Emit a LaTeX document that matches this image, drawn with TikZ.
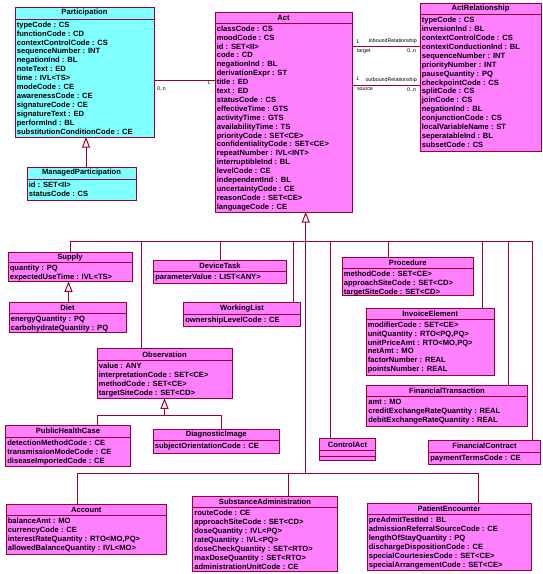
\documentclass[tikz,border=0pt]{standalone}
\usepackage{fontspec}
\setmainfont{Liberation Sans}
\usepackage{tikz}
\usetikzlibrary{arrows.meta}
\definecolor{rimred}{RGB}{153,0,51}
\definecolor{actpink}{RGB}{255,128,255}
\definecolor{partcyan}{RGB}{128,255,255}
% one class box: name, fill, top left, width, height, header height, title, attributes
\newcommand{\umlclass}[8]{%
  \node[classbox,fill=#2,minimum width=#4pt,minimum height=#5pt,anchor=north west] (#1) at (#3) {};
  \draw[umlline] ([yshift=-#6pt]#1.north west) -- ([yshift=-#6pt]#1.north east);
  \node[classtext] (#1-t) at ([yshift=-#6pt/2]#1.north) {#7};
  \foreach \attr [count=\k] in {#8}
    \node[classtext,anchor=base west] (#1-a\k) at ([xshift=1.6pt,yshift=-#6pt-8.2pt-(\k-1)*8.9pt]#1.north west) {\attr};
}

\begin{document}
\begin{tikzpicture}[x=1pt,y=-1pt,
  classbox/.style={draw=rimred,line width=1pt,inner sep=0pt,outer sep=0pt},
  umlline/.style={draw=rimred,line width=1pt},
  classtext/.style={font=\fontsize{7.6}{8.9}\selectfont\bfseries,inner sep=0pt},
  role/.style={font=\fontsize{5.3}{6}\selectfont,inner sep=0pt},
  gen/.style={umlline},
  inherit/.style={umlline,-{Triangle[open,length=10.5pt,width=8pt]}}]
\useasboundingbox (0,0) rectangle (543,574);
% participation side
\umlclass{participation}{partcyan}{15,7}{139}{130}{12}{Participation}{typeCode : CS, functionCode : CD, contextControlCode : CS, sequenceNumber : INT, negationInd : BL, noteText : ED, time : IVL<TS>, modeCode : CE, awarenessCode : CE, signatureCode : CE, signatureText : ED, performInd : BL, substitutionConditionCode : CE}
\umlclass{managed}{partcyan}{27,167}{109}{33}{12}{ManagedParticipation}{id : SET<II>, statusCode : CS}
% act and its relationships
\umlclass{act}{actpink}{215,12}{137}{200}{11}{Act}{classCode : CS, moodCode : CS, id : SET<II>, code : CD, negationInd : BL, derivationExpr : ST, title : ED, text : ED, statusCode : CS, effectiveTime : GTS, activityTime : GTS, availabilityTime : TS, priorityCode : SET<CE>, confidentialityCode : SET<CE>, repeatNumber : IVL<INT>, interruptibleInd : BL, levelCode : CE, independentInd : BL, uncertaintyCode : CE, reasonCode : SET<CE>, languageCode : CE}
\umlclass{actrel}{actpink}{420,3}{121}{148}{11.5}{ActRelationship}{typeCode : CS, inversionInd : BL, contextControlCode : CS, contextConductionInd : BL, sequenceNumber : INT, priorityNumber : INT, pauseQuantity : PQ, checkpointCode : CS, splitCode : CS, joinCode : CS, negationInd : BL, conjunctionCode : CS, localVariableName : ST, seperatableInd : BL, subsetCode : CS}
% specialisations of act
\umlclass{supply}{actpink}{8,252}{124}{29.3}{10.5}{Supply}{quantity : PQ, expectedUseTime : IVL<TS>}
\umlclass{diet}{actpink}{9,302}{117}{30.3}{11.5}{Diet}{energyQuantity : PQ, carbohydrateQuantity : PQ}
\umlclass{devicetask}{actpink}{153.5,260.5}{133}{23}{11}{DeviceTask}{parameterValue : LIST<ANY>}
\umlclass{workinglist}{actpink}{183.5,302.5}{117}{24.2}{12}{WorkingList}{ownershipLevelCode : CE}
\umlclass{observation}{actpink}{97,348.5}{135}{49.8}{12}{Observation}{value : ANY, interpretationCode : SET<CE>, methodCode : SET<CE>, targetSiteCode : SET<CD>}
\umlclass{phc}{actpink}{5.5,425.5}{125}{40.8}{11.5}{PublicHealthCase}{detectionMethodCode : CE, transmissionModeCode : CE, diseaseImportedCode : CE}
\umlclass{diagimage}{actpink}{153,429.5}{126.5}{23.8}{11}{DiagnosticImage}{subjectOrientationCode : CE}
\umlclass{procedure}{actpink}{342,257}{131.5}{38.7}{11.5}{Procedure}{methodCode : SET<CE>, approachSiteCode : SET<CD>, targetSiteCode : SET<CD>}
\umlclass{invoice}{actpink}{366,308}{128.5}{67.7}{11}{InvoiceElement}{modifierCode : SET<CE>, {unitQuantity : RTO<PQ,PQ>}, {unitPriceAmt : RTO<MO,PQ>}, netAmt : MO, factorNumber : REAL, pointsNumber : REAL}
\umlclass{fintrans}{actpink}{366.5,385}{161}{41.3}{11.5}{FinancialTransaction}{amt : MO, creditExchangeRateQuantity : REAL, debitExchangeRateQuantity : REAL}
\umlclass{fincontract}{actpink}{428.5,440.5}{112}{23.8}{11.5}{FinancialContract}{paymentTermsCode : CE}
\umlclass{account}{actpink}{6,504.5}{160.5}{49.8}{11}{Account}{balanceAmt : MO, currencyCode : CE, {interestRateQuantity : RTO<MO,PQ>}, allowedBalanceQuantity : IVL<MO>}
\umlclass{substadmin}{actpink}{192.5,496}{145}{75}{11.5}{SubstanceAdministration}{routeCode : CE, approachSiteCode : SET<CD>, doseQuantity : IVL<PQ>, rateQuantity : IVL<PQ>, doseCheckQuantity : SET<RTO>, maxDoseQuantity : SET<RTO>, administrationUnitCode : CE}
\umlclass{encounter}{actpink}{367,503.5}{164}{66.5}{11}{PatientEncounter}{preAdmitTestInd : BL, admissionReferralSourceCode : CE, lengthOfStayQuantity : PQ, dischargeDispositionCode : CE, specialCourtesiesCode : SET<CE>, specialArrangementCode : SET<CE>}
% control act has empty compartments
\node[classbox,fill=actpink,minimum width=56pt,minimum height=22pt,anchor=north west] (controlact) at (319.5,438.5) {};
\draw[umlline] ([yshift=-12pt]controlact.north west) -- ([yshift=-12pt]controlact.north east);
\draw[umlline] ([yshift=-17.5pt]controlact.north west) -- ([yshift=-17.5pt]controlact.north east);
\node[classtext] (controlact-t) at ([yshift=-6pt]controlact.north) {ControlAct};
% associations
\draw[umlline] (participation.east |- 0,80.5) -- (act.west |- 0,80.5)
  node[role,pos=0,anchor=west,xshift=2.5pt,yshift=-8.5pt] (pa-many) {0..n}
  node[role,pos=1,anchor=east,xshift=-4.3pt,yshift=-2.6pt] (pa-one) {1};
\draw[umlline] (act.east |- 0,46.5) -- (actrel.west |- 0,46.5)
  node[role,pos=0,anchor=west,xshift=3.5pt,yshift=4.4pt] (in-one) {1}
  node[role,pos=1,anchor=east,xshift=-2.7pt,yshift=5pt] (in-name) {inboundRelationship}
  node[role,pos=0,anchor=west,xshift=4.5pt,yshift=-5.2pt] (in-role) {target}
  node[role,pos=1,anchor=east,xshift=-3.5pt,yshift=-4.4pt] (in-many) {0..n};
\draw[umlline] (act.east |- 0,85.3) -- (actrel.west |- 0,85.3)
  node[role,pos=0,anchor=west,xshift=3.5pt,yshift=6.5pt] (out-one) {1}
  node[role,pos=1,anchor=east,xshift=-2.7pt,yshift=5pt] (out-name) {outboundRelationship}
  node[role,pos=0,anchor=west,xshift=4.5pt,yshift=-4.2pt] (out-role) {source}
  node[role,pos=1,anchor=east,xshift=-3.5pt,yshift=-4.7pt] (out-many) {0..n};
% generalisation trees
\coordinate (actbus) at (305.7,241.5);
\coordinate (actbus2) at (305.7,473.3);
\coordinate (obsbus) at (164.5,415.7);
\draw[inherit] (managed.north -| 86,0) -- (participation.south -| 86,0);
\draw[gen] (supply.north -| 70.5,0) |- (actbus);
\draw[gen] (observation.north -| 141.7,0) |- (actbus);
\draw[gen] (devicetask.north -| 220.3,0) |- (actbus);
\draw[gen] (workinglist.north -| 293.3,0) |- (actbus);
\draw[gen] (controlact.north -| 330.5,0) |- (actbus);
\draw[gen] (procedure.north -| 388.7,0) |- (actbus);
\draw[gen] (invoice.north -| 482.3,0) |- (actbus);
\draw[gen] (fintrans.north -| 508.5,0) |- (actbus);
\draw[gen] (fincontract.north -| 532.2,0) |- (actbus);
\draw[gen] (account.north -| 77.5,0) |- (actbus2);
\draw[gen] (substadmin.north -| 288.5,0) |- (actbus2);
\draw[gen] (encounter.north -| 478.5,0) |- (actbus2);
\draw[gen] (actbus2) -- (actbus);
\draw[inherit] (actbus) -- (act.south -| actbus);
\draw[inherit] (diet.north -| 68.5,0) -- (supply.south -| 68.5,0);
\draw[gen] (phc.north -| 97,0) |- (obsbus);
\draw[gen] (diagimage.north -| 221.7,0) |- (obsbus);
\draw[inherit] (obsbus) -- (observation.south -| obsbus);
\end{tikzpicture}
\end{document}
